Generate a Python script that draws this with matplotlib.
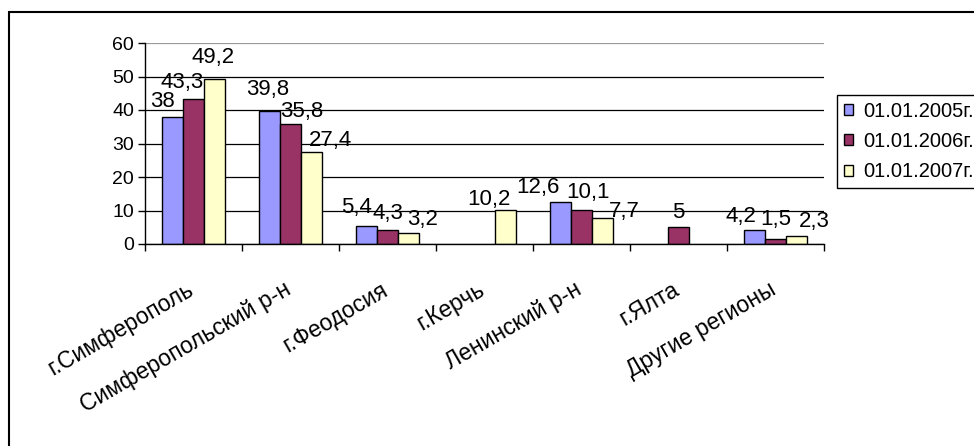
import numpy as np
import matplotlib
matplotlib.use('Agg')
import matplotlib.pyplot as plt
import matplotlib.transforms as mtrans
from matplotlib.patches import Patch, Rectangle

# -------------------------
# DATA
# -------------------------
categories = ['г.Симферополь', 'Симферопольский р-н', 'г.Феодосия', 'г.Керчь',
              'Ленинский р-н', 'г.Ялта', 'Другие регионы']
series_names = ['01.01.2005г.', '01.01.2006г.', '01.01.2007г.']
values_2005 = [38, 39.8, 5.4, np.nan, 12.6, np.nan, 4.2]
values_2006 = [43.3, 35.8, 4.3, np.nan, 10.1, 5, 1.5]
values_2007 = [49.2, 27.4, 3.2, 10.2, 7.7, np.nan, 2.3]
y_ticks = [0, 10, 20, 30, 40, 50, 60]

# -------------------------
# STYLE / LAYOUT
# -------------------------
COLORS = ['#9999FF', '#993366', '#FFFFCC']
W, H = 974, 446
BAR_W = 0.2167

# label nudges in pixels (dx, dy above bar top), per series
LABEL_DX = [[-10, -2, -10, 0, -23, 0, -14],
            [-11, 11, 0, 0, 6, 0, 0],
            [-1, 19, 14, -17, 22, 0, 18]]
LABEL_DY = [[10, 16, 13, 0, 9, 0, 8],
            [11, 7, 11, 0, 12, 9, 14],
            [16, 6, 8, 5, 1, 0, 9]]

plt.rcParams['font.family'] = ['Liberation Sans', 'DejaVu Sans']

fig = plt.figure(figsize=(W / 100, H / 100), dpi=100)
ax = fig.add_axes([145 / W, 1 - 244 / H, (824 - 145) / W, (244 - 43) / H])

x = np.arange(len(categories)) + 0.5
all_vals = [values_2005, values_2006, values_2007]
px2pt = 72 / 100

for i, vals in enumerate(all_vals):
    xs = x + (i - 1) * BAR_W
    ax.bar(xs, vals, width=BAR_W, color=COLORS[i], edgecolor='black',
           linewidth=1.0, zorder=3)
    for j, v in enumerate(vals):
        if np.isnan(v):
            continue
        lbl = ('%g' % v).replace('.', ',')
        ax.annotate(lbl, (xs[j], v),
                    xytext=(LABEL_DX[i][j] * px2pt, LABEL_DY[i][j] * px2pt),
                    textcoords='offset points', ha='center', va='baseline',
                    fontsize=16, zorder=4)

ax.set_xlim(0, len(categories))
ax.set_ylim(0, 60)
ax.set_yticks(y_ticks)
ax.tick_params(axis='y', direction='out', length=5, width=1, labelsize=14, pad=3)

# category labels, rotated, right end just left of the category centre
ax.set_xticks(x)
ax.set_xticklabels([])
ax.tick_params(axis='x', which='major', length=0)
lbl_tr = ax.get_xaxis_transform() + mtrans.ScaledTranslation(-7 / 100, -34 / 100,
                                                              fig.dpi_scale_trans)
for xc, name in zip(x, categories):
    ax.text(xc, 0, name, transform=lbl_tr, rotation=30, ha='right', va='top',
            rotation_mode='anchor', fontsize=16.5)
ax.set_xticks(np.arange(len(categories) + 1), minor=True)
ax.tick_params(axis='x', which='minor', direction='out', length=5, width=1)

ax.yaxis.grid(True, color='black', linewidth=0.9, zorder=0)
ax.get_ygridlines()[-1].set_color('#9a9a9a')
ax.set_axisbelow(True)
for s in ['top', 'right']:
    ax.spines[s].set_visible(False)
for s in ['left', 'bottom']:
    ax.spines[s].set_color('black')
    ax.spines[s].set_linewidth(1.0)
    ax.spines[s].set_zorder(5)

handles = [Patch(facecolor=c, edgecolor='black', linewidth=1.0) for c in COLORS]
leg = fig.legend(handles, series_names, loc='upper left',
                 bbox_to_anchor=(837 / W, 1 - 95 / H), bbox_transform=fig.transFigure,
                 frameon=True, fancybox=False, edgecolor='black', framealpha=1,
                 borderaxespad=0, borderpad=0.35, handlelength=0.46,
                 handleheight=0.46, handletextpad=0.5, labelspacing=0.55,
                 fontsize=14.5)
leg.get_frame().set_linewidth(1.0)

# outer chart border (runs off the right and bottom edges)
fig.add_artist(Rectangle((9 / W, -0.2), 1.2, 1.2 - 12 / H, transform=fig.transFigure,
                         fill=False, edgecolor='black', linewidth=1.5))

fig.savefig('out.png', dpi=100)
